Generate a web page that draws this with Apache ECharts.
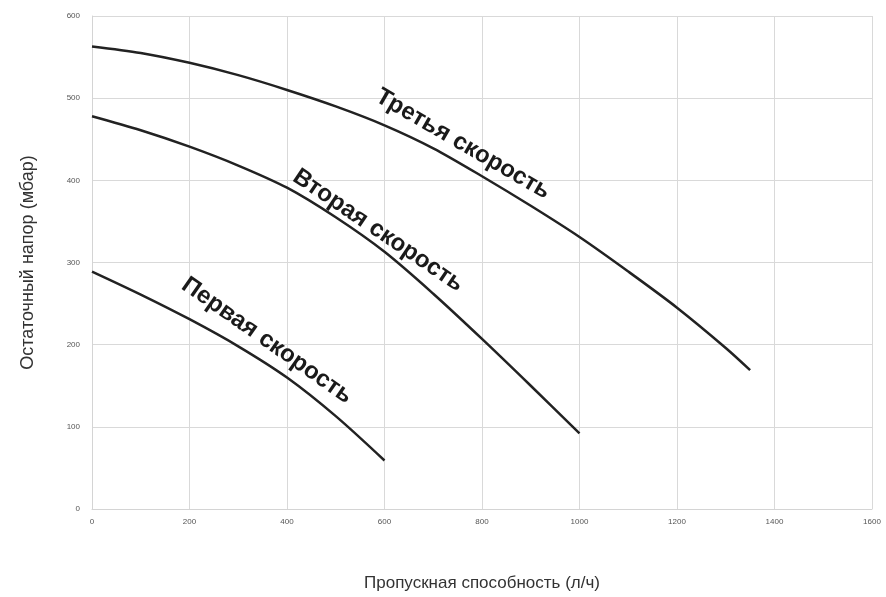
<!DOCTYPE html>
<html>
<head>
<meta charset="utf-8">
<script src="https://cdn.jsdelivr.net/npm/echarts@6/dist/echarts.min.js"></script>
<style>
  html, body { margin: 0; padding: 0; background: #fff; }
  #main { width: 886px; height: 597px; }
</style>
</head>
<body>
<div id="main"></div>
<script>
// расход, л/ч  /  напор, мбар
var speed1 = [[0, 289], [100, 261], [200, 231], [300, 198], [400, 160], [500, 113], [600, 59]];
var speed2 = [[0, 478], [100, 461], [200, 441], [300, 418], [400, 391], [500, 355], [600, 313], [700, 262], [800, 207], [900, 150], [1000, 92]];
var speed3 = [[0, 563], [100, 555], [200, 543], [300, 528], [400, 510], [500, 490], [600, 467], [700, 439], [800, 405], [900, 369], [1000, 331], [1100, 289], [1200, 245], [1300, 196], [1350, 169]];
var speedNames = ['Первая скорость', 'Вторая скорость', 'Третья скорость'];

// подписи вдоль кривых: точка привязки (в данных) и угол
var curveLabels = [
  { text: speedNames[0], at: [359, 205], angle: 35 },
  { text: speedNames[1], at: [587, 339], angle: 34 },
  { text: speedNames[2], at: [761, 444], angle: 30 }
];

var chart = echarts.init(document.getElementById('main'), null, { renderer: 'canvas' });

function lineSeries(name, data) {
  return {
    name: name,
    type: 'line',
    data: data,
    smooth: 0.3,
    symbol: 'none',
    lineStyle: { color: '#222', width: 2.5 }
  };
}

var option = {
  backgroundColor: '#fff',
  animation: false,
  grid: { left: 92, right: 14, top: 16, bottom: 84 },
  xAxis: {
    type: 'value',
    min: 0, max: 1600, interval: 200,
    name: 'Пропускная способность (л/ч)',
    nameLocation: 'middle',
    nameGap: 66,
    nameTextStyle: { fontFamily: 'Liberation Sans', fontSize: 17, color: '#333' },
    axisLine: { show: true, lineStyle: { color: '#d4d4d4' } },
    axisTick: { show: false },
    axisLabel: { fontFamily: 'Liberation Sans', fontSize: 8, color: '#555', margin: 9, formatter: function (v) { return String(v); } },
    splitLine: { show: true, lineStyle: { color: '#d9d9d9' } }
  },
  yAxis: {
    type: 'value',
    min: 0, max: 600, interval: 100,
    name: 'Остаточный напор (мбар)',
    nameLocation: 'middle',
    nameGap: 55,
    nameTextStyle: { fontFamily: 'Liberation Sans', fontSize: 18, color: '#333' },
    axisLine: { show: true, lineStyle: { color: '#d4d4d4' } },
    axisTick: { show: false },
    axisLabel: { fontFamily: 'Liberation Sans', fontSize: 8, color: '#555', margin: 12 },
    splitLine: { show: true, lineStyle: { color: '#d9d9d9' } }
  },
  series: [
    lineSeries(speedNames[0], speed1),
    lineSeries(speedNames[1], speed2),
    lineSeries(speedNames[2], speed3)
  ]
};

chart.setOption(option);

// подписи кривых ставим по координатам осей
var labelGraphics = curveLabels.map(function (l) {
  var p = chart.convertToPixel({ gridIndex: 0 }, l.at);
  return {
    type: 'text',
    x: p[0], y: p[1],
    rotation: -l.angle * Math.PI / 180,
    style: {
      text: l.text,
      font: 'bold 24px "Liberation Sans", Arial, sans-serif',
      fill: '#1a1a1a',
      align: 'center',
      verticalAlign: 'middle'
    }
  };
});
chart.setOption({ graphic: labelGraphics });
</script>
</body>
</html>
